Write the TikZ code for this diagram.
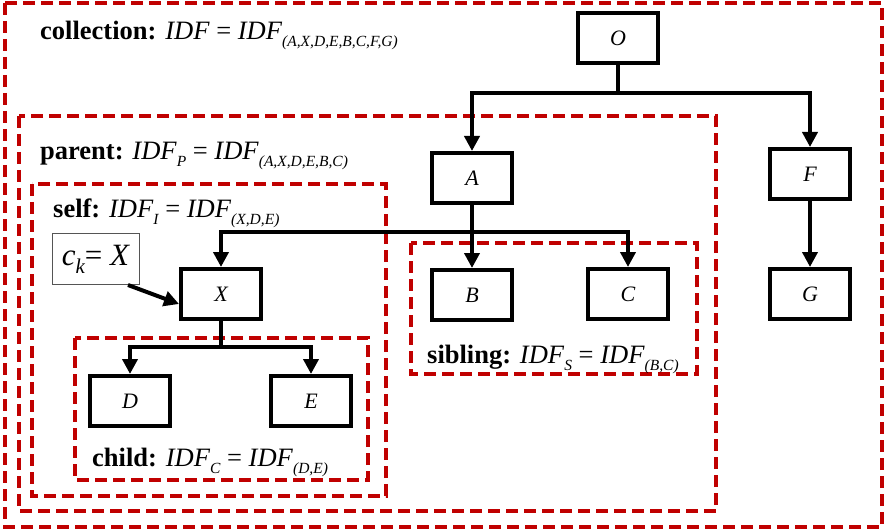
\documentclass[tikz,border=0pt]{standalone}
\usepackage{fontspec}
\setmainfont{Liberation Serif}
\usepackage{xcolor}
\usepackage{tikz}
\usetikzlibrary{arrows.meta}
\definecolor{scopered}{HTML}{C00000}
\definecolor{grayframe}{HTML}{555555}
\newcommand{\idfsub}[1]{\raisebox{-7pt}{\fontsize{15.5}{15.5}\selectfont\itshape #1}}
\tikzset{every node/.append style={font=\fontsize{22}{26}\selectfont}}

\begin{document}
\begin{tikzpicture}[>={Triangle[length=15pt,width=15pt]},x=1pt,y=-1pt,
  term/.style={draw,line width=4pt,minimum width=80pt,minimum height=50pt,inner sep=0pt,font=\fontsize{22}{26}\selectfont\itshape},
  scopebox/.style={scopered,line width=4pt,dash pattern=on 12pt off 6pt},
  link/.style={->,line width=4pt},
  bar/.style={line width=4pt},
  caption/.style={anchor=base west,inner sep=0pt,font=\fontsize{26.5}{30}\selectfont}]
\useasboundingbox (0,0) rectangle (884,532);
% scopes
\draw[scopebox] (5,3) rectangle (882,527);
\draw[scopebox] (19,116) rectangle (716,511);
\draw[scopebox] (32,184) rectangle (386,496);
\draw[scopebox] (75,338) rectangle (368,480);
\draw[scopebox] (411,243) rectangle (697,374);
% captions
\node[caption] (collcap) at (40,40) {\textbf{collection:} \textit{IDF} = \textit{IDF}\idfsub{(A,X,D,E,B,C,F,G)}};
\node[caption] (parcap) at (40,160) {\textbf{parent:} \textit{IDF}\idfsub{P} = \textit{IDF}\idfsub{(A,X,D,E,B,C)}};
\node[caption] (selfcap) at (53,218) {\textbf{self:} \textit{IDF}\idfsub{I} = \textit{IDF}\idfsub{(X,D,E)}};
\node[caption] (sibcap) at (427,363) {\textbf{sibling:} \textit{IDF}\idfsub{S} = \textit{IDF}\idfsub{(B,C)}};
\node[caption] (chcap) at (92,466) {\textbf{child:} \textit{IDF}\idfsub{C} = \textit{IDF}\idfsub{(D,E)}};
% terms
\node[term] (O) at (618,38) {O};
\node[term] (A) at (472,178) {A};
\node[term] (F) at (810,174) {F};
\node[term] (X) at (221,294) {X};
\node[term] (B) at (472,295) {B};
\node[term] (C) at (628,294) {C};
\node[term] (G) at (810,294) {G};
\node[term] (D) at (130,401) {D};
\node[term] (E) at (311,401) {E};
\node[draw=grayframe,line width=1pt,minimum width=87pt,minimum height=51pt,font=\fontsize{31}{34}\selectfont] (ck) at (96,259) {\textit{c}\raisebox{-8pt}{\fontsize{21}{21}\selectfont\itshape k}= \textit{X}};
% links
\coordinate (busO) at (618,93);
\coordinate (busA) at (472,232);
\coordinate (busX) at (221,347);
\draw[bar] (O.south) -- (busO);
\draw[link] (busO) -| (A.north);
\draw[link] (busO) -| (F.north);
\draw[bar] (A.south) -- (busA);
\draw[link] (busA) -- (B.north);
\draw[link] (busA) -| (X.north);
\draw[link] (busA) -| (C.north);
\draw[link] (F) -- (G);
\draw[bar] (X.south) -- (busX);
\draw[link] (busX) -| (D.north);
\draw[link] (busX) -| (E.north);
\draw[link] ([xshift=-12pt]ck.south east) -- ([yshift=-10pt]X.west);
\end{tikzpicture}
\end{document}
